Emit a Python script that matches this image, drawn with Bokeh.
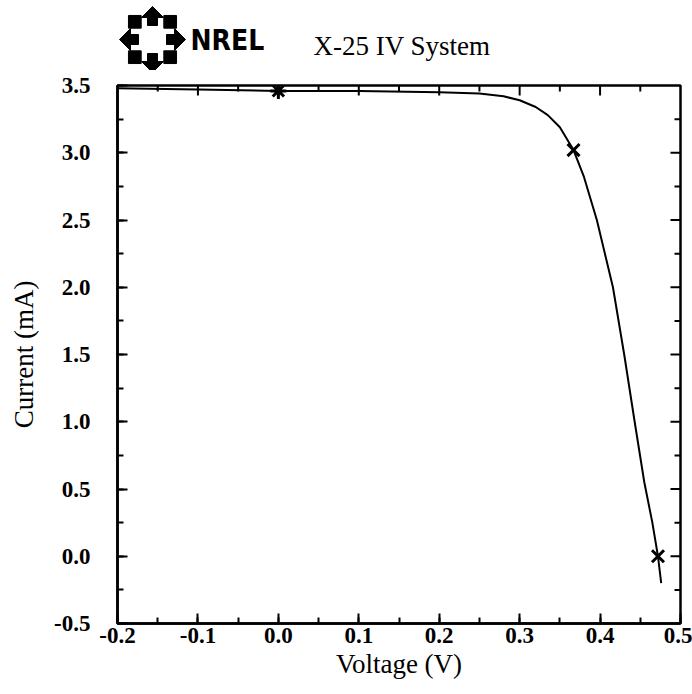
import numpy as np
from bokeh.plotting import figure
from bokeh.layouts import column
from bokeh.models import Range1d, SingleIntervalTicker, PrintfTickFormatter
from bokeh.core.properties import value
from bokeh.embed import file_html
from bokeh.resources import INLINE

# ---- data ----
voltage = [-0.2, -0.1, 0.0, 0.1, 0.2, 0.25, 0.28, 0.30, 0.32, 0.335, 0.35,
           0.367, 0.38, 0.396, 0.416, 0.43, 0.443, 0.455, 0.465, 0.472, 0.476]
current = [3.48, 3.47, 3.46, 3.46, 3.45, 3.44, 3.42, 3.39, 3.34, 3.28, 3.19,
           3.02, 2.82, 2.50, 2.00, 1.50, 1.00, 0.55, 0.25, 0.00, -0.20]
star_v = [0.0]
star_i = [3.46]
cross_v = [0.367, 0.472]
cross_i = [3.02, 0.0]
# tick positions for the mirrored (top / right) tick marks
top_major = [-0.1, 0.0, 0.1, 0.2, 0.3, 0.4]
top_minor = [-0.15, -0.05, 0.05, 0.15, 0.25, 0.35, 0.45]
right_major = [0.0, 0.5, 1.0, 1.5, 2.0, 2.5, 3.0]
right_minor = [-0.25, 0.25, 0.75, 1.25, 1.75, 2.25, 2.75, 3.25]
title_text = "X-25 IV System"
logo_text = "NREL"
x_label = "Voltage (V)"
y_label = "Current (mA)"

SERIF = "Liberation Serif"
X0, X1, Y0, Y1 = -0.2, 0.5, -0.5, 3.5
FW, FH = 563, 538
HH = 70

# ---- header with logo and title (x range in page pixels of the aligned frame) ----
header = figure(width=692, height=HH, x_range=Range1d(117, 117 + FW), y_range=Range1d(0, HH),
                output_backend="svg", toolbar_location=None, min_border=0,
                x_axis_location=None, y_axis_location=None)
header.grid.visible = False
header.outline_line_color = None

cx, cy = 152, HH - 39
xs, ys = [], []
for k in range(8):
    a = np.deg2rad(90 - 45 * k)
    d = np.array([np.cos(a), np.sin(a)])
    n = np.array([-d[1], d[0]])
    if k % 2 == 0:
        pts = [d * 14 + n * 5, d * 22 + n * 5, d * 22 + n * 11, d * 33, d * 22 - n * 11,
               d * 22 - n * 5, d * 14 - n * 5]
    else:
        pts = [d * 16, d * 25 + n * 9, d * 34, d * 25 - n * 9]
    xs.append([cx + q[0] for q in pts])
    ys.append([cy + q[1] for q in pts])
header.patches(xs, ys, fill_color="black", line_color="black", line_width=1)
header.text(x=[190], y=[HH - 40], text=[logo_text], text_font=value("DejaVu Sans Condensed"),
            text_font_size="28px", text_font_style="bold", text_baseline="middle",
            text_align="left", text_color="black")
header.text(x=[313], y=[HH - 45], text=[title_text], text_font=value(SERIF),
            text_font_size="27px", text_baseline="middle", text_align="left",
            text_color="black")

# ---- main plot ----
p = figure(frame_width=FW, frame_height=FH, x_range=Range1d(X0, X1),
           y_range=Range1d(Y0, Y1), output_backend="svg", toolbar_location=None,
           min_border_left=117, min_border_right=12, min_border_top=85 - HH,
           min_border_bottom=66)
p.grid.visible = False
p.outline_line_color = "black"
p.outline_line_width = 2.5
p.background_fill_color = "white"
p.border_fill_color = "white"

for ax in (p.xaxis[0], p.yaxis[0]):
    ax.axis_line_width = 2.5
    ax.axis_line_color = "black"
    ax.major_tick_in = 10
    ax.major_tick_out = 0
    ax.minor_tick_in = 6
    ax.minor_tick_out = 0
    ax.major_tick_line_width = 2
    ax.minor_tick_line_width = 2
    ax.major_tick_line_color = "black"
    ax.minor_tick_line_color = "black"
    ax.formatter = PrintfTickFormatter(format="%.1f")
    ax.major_label_text_font = SERIF
    ax.major_label_text_font_style = "bold"
    ax.major_label_text_font_size = "23px"
    ax.major_label_text_color = "black"
    ax.axis_label_text_font = SERIF
    ax.axis_label_text_font_style = "normal"
    ax.axis_label_text_font_size = "27px"
    ax.axis_label_text_color = "black"

p.xaxis.ticker = SingleIntervalTicker(interval=0.1, num_minor_ticks=2)
p.yaxis.ticker = SingleIntervalTicker(interval=0.5, num_minor_ticks=2)
p.xaxis.axis_label = x_label
p.yaxis.axis_label = y_label
p.xaxis.major_label_standoff = 4
p.yaxis.major_label_standoff = 27
p.xaxis.axis_label_standoff = 3
p.yaxis.axis_label_standoff = 12

# mirrored tick marks on the top and right edges (lengths in pixels -> data units)
dy_major, dy_minor = 10 * (Y1 - Y0) / FH, 6 * (Y1 - Y0) / FH
dx_major, dx_minor = 10 * (X1 - X0) / FW, 6 * (X1 - X0) / FW
tick_style = dict(line_color="black", line_width=2)
p.segment(x0=top_major, y0=[Y1] * len(top_major), x1=top_major,
          y1=[Y1 - dy_major] * len(top_major), **tick_style)
p.segment(x0=top_minor, y0=[Y1] * len(top_minor), x1=top_minor,
          y1=[Y1 - dy_minor] * len(top_minor), **tick_style)
p.segment(x0=[X1] * len(right_major), y0=right_major, x1=[X1 - dx_major] * len(right_major),
          y1=right_major, **tick_style)
p.segment(x0=[X1] * len(right_minor), y0=right_minor, x1=[X1 - dx_minor] * len(right_minor),
          y1=right_minor, **tick_style)

p.line(voltage, current, line_color="black", line_width=2)
p.scatter(star_v, star_i, marker="asterisk", size=16, line_color="black", line_width=3)
p.scatter(cross_v, cross_i, marker="x", size=17, line_color="black", line_width=3)

layout = column(header, p, spacing=0)
open("out.html", "w").write(file_html(layout, INLINE))
